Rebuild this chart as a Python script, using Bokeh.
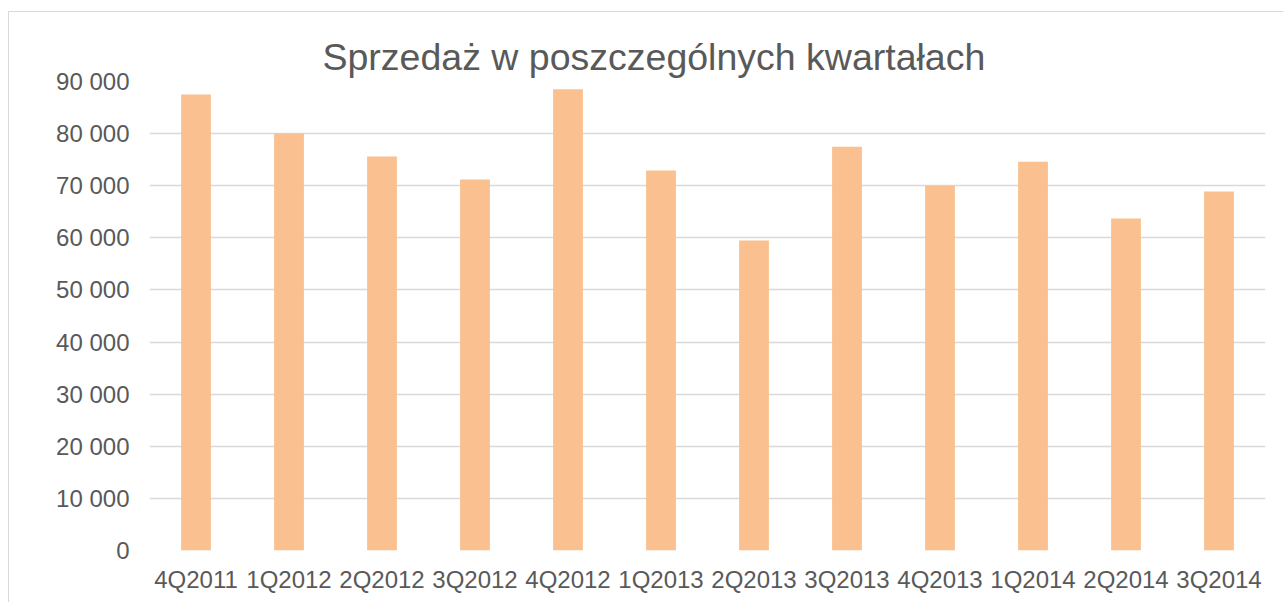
from bokeh.plotting import figure
from bokeh.models import Range1d, FactorRange, FixedTicker
from bokeh.embed import file_html
from bokeh.resources import INLINE

categories = ["4Q2011", "1Q2012", "2Q2012", "3Q2012", "4Q2012", "1Q2013",
              "2Q2013", "3Q2013", "4Q2013", "1Q2014", "2Q2014", "3Q2014"]
sales = [87500, 80000, 75600, 71200, 88500, 72900,
         59500, 77500, 70000, 74600, 63700, 68900]
y_ticks = [0, 10000, 20000, 30000, 40000, 50000, 60000, 70000, 80000, 90000]
y_tick_labels = ["0", "10 000", "20 000", "30 000", "40 000", "50 000",
                 "60 000", "70 000", "80 000", "90 000"]
title_text = "Sprzedaż w poszczególnych kwartałach"

FONT = "Liberation Sans"
TXT = "#595959"
GRID = "#D9D9D9"

p = figure(width=1275, height=591, output_backend="svg", toolbar_location=None,
           x_range=FactorRange(*categories), y_range=Range1d(0, 90000),
           min_border_left=140, min_border_right=19, min_border_top=69,
           min_border_bottom=53, title=title_text,
           styles={"margin-top": "11px", "margin-left": "8px",
                   "border-top": "1px solid #D9D9D9",
                   "border-left": "1px solid #D9D9D9"})

p.vbar(x=categories, top=sales, width=0.32, fill_color="#FAC090",
       line_color=None)

p.title.align = "left"
p.title.offset = 173
p.title.text_font = FONT
p.title.text_font_size = "37.5px"
p.title.text_font_style = "normal"
p.title.text_color = TXT
p.title.standoff = 8

p.outline_line_color = None
p.background_fill_color = "white"
p.border_fill_color = "white"

p.xgrid.grid_line_color = None
p.ygrid.grid_line_color = GRID
p.ygrid.grid_line_width = 1.5

p.yaxis.ticker = FixedTicker(ticks=y_ticks)
p.yaxis.major_label_overrides = {t: l for t, l in zip(y_ticks, y_tick_labels)}

for ax in (p.xaxis[0], p.yaxis[0]):
    ax.axis_line_color = None
    ax.major_tick_line_color = None
    ax.minor_tick_line_color = None
    ax.major_label_text_font = FONT
    ax.major_label_text_font_size = "24px"
    ax.major_label_text_color = TXT

p.yaxis.major_label_standoff = 14
p.xaxis.major_label_standoff = 9

open("out.html", "w").write(file_html(p, INLINE))
